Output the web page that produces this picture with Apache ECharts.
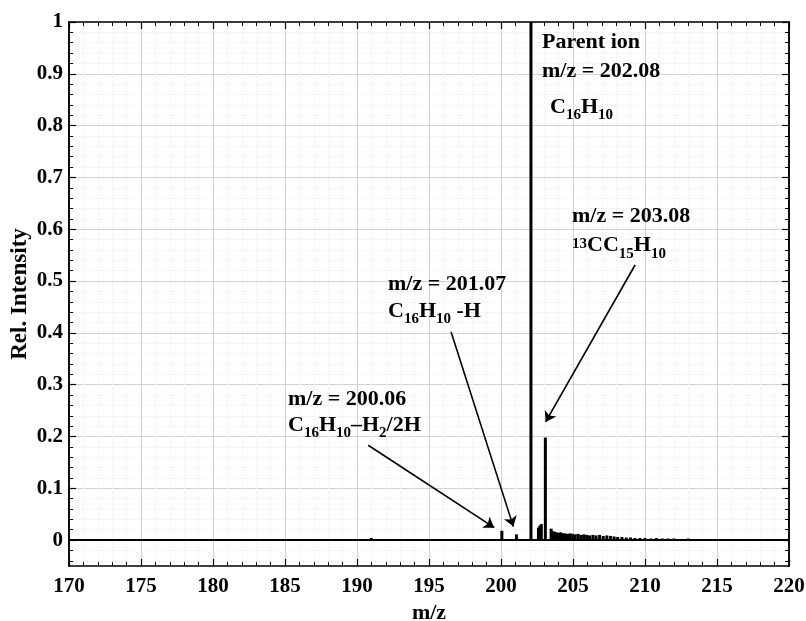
<!DOCTYPE html>
<html>
<head>
<meta charset="utf-8">
<script src="https://cdn.jsdelivr.net/npm/echarts@6/dist/echarts.min.js"></script>
<style>html,body{margin:0;padding:0;background:#fff}#c{width:806px;height:621px}</style>
</head>
<body>
<div id="c"></div>
<script>
// ---- data ----
const mzValues = [
  191.00, 200.06, 201.07, 202.08, 202.60, 202.70, 202.80, 203.08,
  203.48, 203.60, 203.72, 203.85, 204.00, 204.15, 204.30, 204.45,
  204.62, 204.80, 204.98, 205.15, 205.35, 205.55, 205.75, 205.95,
  206.15, 206.38, 206.60, 206.85, 207.10, 207.35, 207.60, 207.85,
  208.10, 208.40, 208.70, 209.00, 209.30, 209.65, 210.00, 210.40,
  210.80, 211.20, 211.60, 212.00, 212.50, 213.00, 213.50, 214.00,
  214.60, 215.20, 215.80, 216.40, 217.00, 217.60, 218.20, 218.80, 219.40
];
const intensities = [
  0.004, 0.018, 0.011, 1.000, 0.024, 0.028, 0.031, 0.198,
  0.022, 0.017, 0.016, 0.015, 0.014, 0.015, 0.013, 0.013,
  0.012, 0.013, 0.012, 0.011, 0.012, 0.010, 0.011, 0.010,
  0.009, 0.010, 0.009, 0.010, 0.008, 0.009, 0.008, 0.007,
  0.006, 0.006, 0.005, 0.005, 0.004, 0.004, 0.004, 0.003,
  0.004, 0.003, 0.003, 0.003, 0.002, 0.003, 0.002, 0.002,
  0.002, 0.002, 0.002, 0.001, 0.002, 0.001, 0.001, 0.001, 0.001
];
const xRange = [170, 220];
const xStep = 5;
const yRange = [-0.05, 1];
const yTickValues = [0, 0.1, 0.2, 0.3, 0.4, 0.5, 0.6, 0.7, 0.8, 0.9, 1];
const yMinorStep = 0.02;
// arrows: start and end points in data units
const arrowFrom = [[190.78, 0.183], [196.53, 0.402], [209.31, 0.531]];
const arrowTo   = [[199.53, 0.024], [200.86, 0.026], [203.10, 0.228]];
const xTitle = 'm/z';
const yTitle = 'Rel. Intensity';

// minor tick positions on the y axis (multiples of 0.02 that are not major ticks)
const yMinorValues = [];
for (let k = -2; k <= 50; k++) {
  const v = Math.round(k * yMinorStep * 1000) / 1000;
  if (k % 5 !== 0 && v >= yRange[0] && v <= yRange[1]) yMinorValues.push(v);
}

const FONT = '"Liberation Serif", "Times New Roman", serif';
function rich(L) {
  return {
    b: {fontFamily: FONT, fontWeight: 'bold', fontSize: 22, lineHeight: L, verticalAlign: 'top', fill: '#000'},
    s: {fontFamily: FONT, fontWeight: 'bold', fontSize: 15, lineHeight: 15, padding: [L / 2 - 1.5, 0, 0, 0], verticalAlign: 'top', fill: '#000'},
    u: {fontFamily: FONT, fontWeight: 'bold', fontSize: 15, lineHeight: 15, padding: [L / 2 - 12, 0, 0, 0], verticalAlign: 'top', fill: '#000'}
  };
}
function note(x, y, L, text) {
  return {type: 'text', x: x, y: y, z: 100, style: {text: text, rich: rich(L), fill: '#000'}};
}

const peaks = mzValues.map((m, i) => [m, intensities[i]]);
const arrowLines = arrowFrom.map((f, i) => [{coord: f}, {coord: arrowTo[i]}]);

const axisLineStyle = {color: '#000', width: 1.5};
const majorTick = {inside: true, length: 7, lineStyle: {color: '#000', width: 1.2}};
const tickLabel = {color: '#000', fontFamily: FONT, fontWeight: 'bold', fontSize: 21};
const majorGrid = {show: true, lineStyle: {color: '#d2d2d2', width: 1}};
const minorGrid = {show: true, lineStyle: {color: '#ededed', width: 1, type: 'dotted'}};

function yAxisDef(position, major, withLabels) {
  return {
    type: 'value', min: yRange[0], max: yRange[1], position: position,
    axisLine: {onZero: false, lineStyle: axisLineStyle},
    axisTick: Object.assign({}, major ? majorTick : {inside: true, length: 4, lineStyle: {color: '#000', width: 1}},
      {customValues: major ? yTickValues : yMinorValues}),
    minorTick: {show: false},
    axisLabel: withLabels
      ? Object.assign({margin: 6, customValues: yTickValues, formatter: v => String(Math.round(v * 10) / 10)}, tickLabel)
      : {show: false},
    splitLine: position === 'left' ? (major ? majorGrid : minorGrid) : {show: false}
  };
}

const yAxes = [
  yAxisDef('left', true, true),
  yAxisDef('left', false, false),
  yAxisDef('right', true, false),
  yAxisDef('right', false, false)
];
yAxes[0].name = yTitle;
yAxes[0].nameLocation = 'middle';
yAxes[0].nameGap = 37;
yAxes[0].nameMoveOverlap = false;
yAxes[0].nameTextStyle = {color: '#000', fontFamily: FONT, fontWeight: 'bold', fontSize: 23};
yAxes[1].z = 0;

const option = {
  animation: false,
  backgroundColor: '#fff',
  grid: {left: 69, right: 17, top: 22, bottom: 55, containLabel: false, outerBoundsMode: 'none'},
  xAxis: [{
    type: 'value', min: xRange[0], max: xRange[1], interval: xStep, position: 'bottom',
    name: xTitle, nameLocation: 'middle', nameGap: 36, nameMoveOverlap: false,
    nameTextStyle: {color: '#000', fontFamily: FONT, fontWeight: 'bold', fontSize: 22},
    axisLine: {onZero: false, lineStyle: axisLineStyle},
    axisTick: majorTick,
    minorTick: {show: true, splitNumber: 5, length: 4, lineStyle: {color: '#000', width: 1}},
    axisLabel: Object.assign({margin: 10}, tickLabel),
    splitLine: majorGrid,
    minorSplitLine: minorGrid
  }, {
    type: 'value', min: xRange[0], max: xRange[1], interval: xStep, position: 'top',
    axisLine: {onZero: false, lineStyle: axisLineStyle},
    axisTick: majorTick,
    minorTick: {show: true, splitNumber: 5, length: 4, lineStyle: {color: '#000', width: 1}},
    axisLabel: {show: false}, splitLine: {show: false}
  }],
  yAxis: yAxes,
  series: [{
    type: 'bar', xAxisIndex: 0, yAxisIndex: 0, barWidth: 3,
    itemStyle: {color: '#000'},
    data: peaks,
    markLine: {
      silent: true, animation: false,
      symbol: ['none', 'none'],
      label: {show: false},
      lineStyle: {color: '#000', width: 2, type: 'solid'},
      data: [[{coord: [xRange[0], 0]}, {coord: [xRange[1], 0]}]]
    }
  }, {
    type: 'line', xAxisIndex: 0, yAxisIndex: 0, data: [], showSymbol: false,
    markLine: {
      silent: true, animation: false,
      symbol: ['none', 'arrow'], symbolSize: 10,
      label: {show: false},
      lineStyle: {color: '#000', width: 1.6, type: 'solid'},
      data: arrowLines
    }
  }],
  graphic: [
    note(542, 31, 29, '{b|Parent ion}\n{b|m/z = 202.08}'),
    note(550, 96, 27, '{b|C}{s|16}{b|H}{s|10}'),
    note(572, 205, 29, '{b|m/z = 203.08}\n{u|13}{b|CC}{s|15}{b|H}{s|10}'),
    note(388, 273, 27, '{b|m/z = 201.07}\n{b|C}{s|16}{b|H}{s|10}{b| -H}'),
    note(288, 388, 26, '{b|m/z = 200.06}\n{b|C}{s|16}{b|H}{s|10}{b|\u2013H}{s|2}{b|/2H}')
  ]
};

const chart = echarts.init(document.getElementById('c'), null, {renderer: 'canvas'});
chart.setOption(option);
</script>
</body>
</html>
